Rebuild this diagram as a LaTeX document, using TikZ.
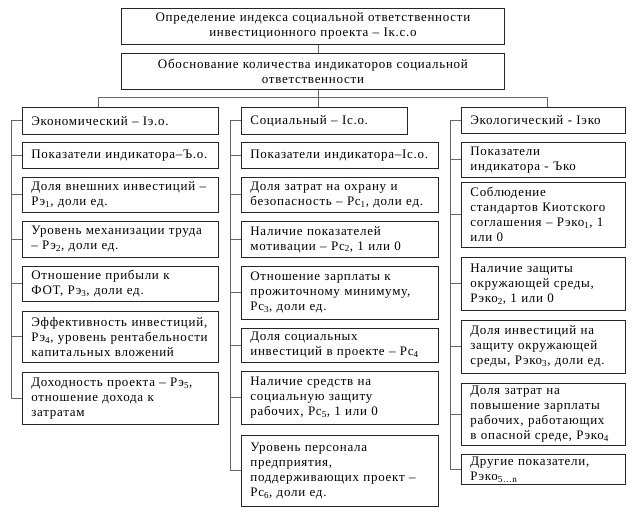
\documentclass[tikz,border=0pt]{standalone}
\usepackage{fontspec}
\setmainfont{Liberation Serif}[LetterSpace=5.5]
\usetikzlibrary{shadows}
\begin{document}
\begin{tikzpicture}[x=1pt,y=-1pt,
  cell/.style={draw=black!85, line width=0.8pt, fill=white, anchor=north west,
    inner xsep=9pt, inner ysep=1pt, align=left,
    font=\fontsize{13}{15}\selectfont,
    drop shadow={shadow xshift=1pt, shadow yshift=-1pt, fill=black!45, opacity=1}},
  topcell/.style={cell, align=center, inner xsep=4pt},
  conn/.style={draw=black!60, line width=0.9pt}]
\useasboundingbox (0,0) rectangle (636,525);

% top boxes
\node[topcell, text width=375pt, minimum height=36pt] (t1) at (121,8)
  {Определение индекса социальной ответственности\\инвестиционного проекта – Iк.с.о};
\node[topcell, text width=375pt, minimum height=36pt] (t2) at (121,53)
  {Обоснование количества индикаторов социальной\\ответственности};

% headers
\node[cell, text width=178pt, minimum height=27pt] (e0) at (22,107) {Экономический – Iэ.о.};
\node[cell, text width=148pt, minimum height=27pt] (s0) at (241,107) {Социальный – Iс.о.};
\node[cell, text width=146pt, minimum height=26pt] (k0) at (461,107) {Экологический - Iэко};

% economic column
\node[cell, text width=178pt, minimum height=26pt] (e1) at (22,142) {Показатели индикатора–Ъ.о.};
\node[cell, text width=178pt, minimum height=35pt] (e2) at (22,177) {Доля внешних инвестиций –\\Рэ\textsubscript{1}, доли ед.};
\node[cell, text width=178pt, minimum height=36pt] (e3) at (22,221) {Уровень механизации труда\\– Рэ\textsubscript{2}, доли ед.};
\node[cell, text width=178pt, minimum height=35pt] (e4) at (22,266) {Отношение прибыли к\\ФОТ, Рэ\textsubscript{3}, доли ед.};
\node[cell, text width=178pt, minimum height=51pt] (e5) at (22,311) {Эффективность инвестиций,\\Рэ\textsubscript{4}, уровень рентабельности\\капитальных вложений};
\node[cell, text width=178pt, minimum height=52pt] (e6) at (22,372) {Доходность проекта – Рэ\textsubscript{5},\\отношение дохода к\\затратам};

% social column
\node[cell, text width=179pt, minimum height=26pt] (s1) at (241,142) {Показатели индикатора–Iс.о.};
\node[cell, text width=179pt, minimum height=35pt] (s2) at (241,177) {Доля затрат на охрану и\\безопасность – Рс\textsubscript{1}, доли ед.};
\node[cell, text width=179pt, minimum height=36pt] (s3) at (241,221) {Наличие показателей\\мотивации – Рс\textsubscript{2}, 1 или 0};
\node[cell, text width=179pt, minimum height=53pt] (s4) at (241,266) {Отношение зарплаты к\\прожиточному минимуму,\\Рс\textsubscript{3}, доли ед.};
\node[cell, text width=179pt, minimum height=34pt] (s5) at (241,328) {Доля социальных\\инвестиций в проекте – Рс\textsubscript{4}};
\node[cell, text width=179pt, minimum height=53pt] (s6) at (241,371) {Наличие средств на\\социальную защиту\\рабочих, Рс\textsubscript{5}, 1 или 0};
\node[cell, text width=179pt, minimum height=71pt] (s7) at (241,435) {Уровень персонала\\предприятия,\\поддерживающих проект –\\Рс\textsubscript{6}, доли ед.\\[4pt]};

% ecological column
\node[cell, text width=146pt, minimum height=35pt] (k1) at (461,142) {Показатели\\индикатора - Ъко};
\node[cell, text width=146pt, minimum height=65pt] (k2) at (461,182) {Соблюдение\\стандартов Киотского\\соглашения – Рэко\textsubscript{1}, 1\\или 0};
\node[cell, text width=146pt, minimum height=53pt] (k3) at (461,257) {Наличие защиты\\окружающей среды,\\Рэко\textsubscript{2}, 1 или 0};
\node[cell, text width=146pt, minimum height=53pt] (k4) at (461,320) {Доля инвестиций на\\защиту окружающей\\среды, Рэко\textsubscript{3}, доли ед.};
\node[cell, text width=146pt, minimum height=62pt] (k5) at (461,383) {Доля затрат на\\повышение зарплаты\\рабочих, работающих\\в опасной среде, Рэко\textsubscript{4}};
\node[cell, text width=146pt, minimum height=30pt] (k6) at (461,454) {Другие показатели,\\Рэко\textsubscript{5…n}};

% connectors
\coordinate (mid) at (318,97);
\coordinate (hl) at (98,97);
\coordinate (hr) at (547,97);
\draw[conn] (t1.south -| mid) -- (t2.north -| mid);
\draw[conn] (t2.south -| mid) -- (s0.north -| mid);
\draw[conn] (hl) -- (hr);
\draw[conn] (hl) -- (e0.north -| hl);
\draw[conn] (hr) -- (k0.north -| hr);

\coordinate (eb) at (11,0);
\coordinate (sb) at (230,0);
\coordinate (kb) at (450,0);
\draw[conn] (eb |- e0.west) -- (eb |- e6.west);
\draw[conn] (sb |- s0.west) -- (sb |- s7.west);
\draw[conn] (kb |- k0.west) -- (kb |- k6.west);
\foreach \n in {e0,e1,e2,e3,e4,e5,e6} \draw[conn] (eb |- \n.west) -- (\n.west);
\foreach \n in {s0,s1,s2,s3,s4,s5,s6,s7} \draw[conn] (sb |- \n.west) -- (\n.west);
\foreach \n in {k0,k1,k2,k3,k4,k5,k6} \draw[conn] (kb |- \n.west) -- (\n.west);
\end{tikzpicture}
\end{document}
